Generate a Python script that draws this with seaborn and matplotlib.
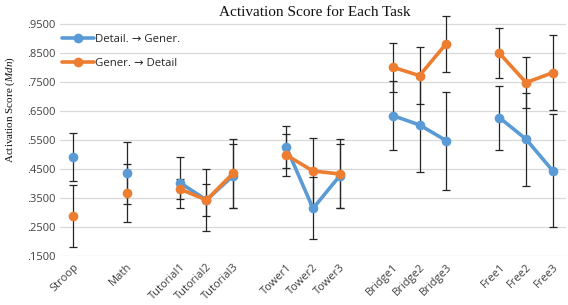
import numpy as np
import pandas as pd
import matplotlib
matplotlib.use("Agg")
import matplotlib.pyplot as plt
import seaborn as sns
from matplotlib.lines import Line2D

categories = ["Stroop", "Math", "Tutorial1", "Tutorial2", "Tutorial3",
              "Tower1", "Tower2", "Tower3", "Bridge1", "Bridge2", "Bridge3",
              "Free1", "Free2", "Free3"]
task_group = [0, 1, 2, 2, 2, 3, 3, 3, 4, 4, 4, 5, 5, 5]

series_names = ["Detail. \u2192 Gener.", "Gener. \u2192 Detail"]
detail_gener = [0.492, 0.435, 0.403, 0.343, 0.427, 0.525, 0.314, 0.426,
                0.634, 0.602, 0.548, 0.627, 0.553, 0.444]
detail_gener_err = [0.082, 0.107, 0.087, 0.107, 0.110, 0.073, 0.107, 0.110,
                    0.118, 0.161, 0.169, 0.110, 0.160, 0.195]
gener_detail = [0.288, 0.366, 0.381, 0.343, 0.435, 0.498, 0.443, 0.433,
                0.801, 0.772, 0.882, 0.849, 0.748, 0.782]
gener_detail_err = [0.108, 0.100, 0.034, 0.054, 0.118, 0.073, 0.115, 0.119,
                    0.085, 0.098, 0.096, 0.086, 0.089, 0.130]

yticks = [0.15, 0.25, 0.35, 0.45, 0.55, 0.65, 0.75, 0.85, 0.95]
ytick_labels = [".1500", ".2500", ".3500", ".4500", ".5500", ".6500",
                ".7500", ".8500", ".9500"]

colors = ["#5B9BD5", "#ED7D31"]

positions = [i + g for i, g in enumerate(task_group)]
rows = []
for name, vals, errs in [(series_names[0], detail_gener, detail_gener_err),
                         (series_names[1], gener_detail, gener_detail_err)]:
    for cat, pos, grp, v, e in zip(categories, positions, task_group, vals, errs):
        rows.append(dict(series=name, category=cat, pos=pos, group=grp,
                         value=v, err=e))
df = pd.DataFrame(rows)

sns.set_theme(style="white")
plt.rcParams['font.family'] = ['DejaVu Sans']
plt.rcParams['mathtext.fontset'] = 'custom'
plt.rcParams['mathtext.it'] = 'Liberation Serif:italic'
plt.rcParams['mathtext.rm'] = 'Liberation Serif'
plt.rcParams['mathtext.default'] = 'rm'

fig = plt.figure(figsize=(5.68, 3.05), dpi=100)
ax = fig.add_axes([60/568, 49/305, 506/568, 243.6/305])

# error bars (behind lines)
for name in series_names:
    d = df[df.series == name]
    ax.errorbar(d.pos, d.value, yerr=d.err, fmt='none', ecolor='#262626',
                elinewidth=0.9, capsize=3.2, capthick=0.9, zorder=2)

palette = dict(zip(series_names, colors))
for grp in sorted(set(task_group)):
    d = df[df.group == grp]
    sns.lineplot(data=d, x="pos", y="value", hue="series", palette=palette,
                 hue_order=series_names, marker="o", markersize=7,
                 markeredgewidth=0, linewidth=2.6, legend=False, ax=ax,
                 zorder=3, sort=False, errorbar=None)

ax.set_xlim(-0.5, 18.5)
ax.set_ylim(0.15, 0.99)
ax.set_yticks(yticks)
ax.set_yticklabels(ytick_labels)
ax.set_xticks(positions)
ax.set_xticklabels(categories, rotation=45, ha="right", rotation_mode="anchor")
ax.tick_params(axis='both', colors="#404040", length=0, pad=3)
ax.tick_params(axis='x', pad=4)
for lbl in ax.get_xticklabels() + ax.get_yticklabels():
    lbl.set_fontfamily(["Open Sans", "DejaVu Sans"])
    lbl.set_fontsize(8)
ax.grid(axis='y', color="#D9D9D9", linewidth=0.9, zorder=0)
ax.set_axisbelow(True)
for s in ax.spines.values():
    s.set_visible(False)
ax.set_xlabel("")

# legend
handles = [Line2D([], [], color=c, marker="o", markersize=7, linewidth=2.6,
                  markeredgewidth=0) for c in colors]
leg = ax.legend(handles, series_names, loc="upper left",
                bbox_to_anchor=(0.004, 0.91), frameon=False,
                prop={"family": ["Open Sans", "DejaVu Sans"], "size": 8.2},
                handlelength=2.8, handletextpad=0.1, labelspacing=1.15,
                borderaxespad=0, borderpad=0)
for t in leg.get_texts():
    t.set_color("#262626")

fig.text(315/568, 1 - 12/305, "Activation Score for Each Task",
         ha="center", va="center", fontsize=11, family="Liberation Serif",
         color="#111111")
ax.set_ylabel(r"Activation Score ($\mathit{Mdn}$)",
              fontsize=8, family="Liberation Serif", color="#111111")
ax.yaxis.set_label_coords(-0.084, 0.6)

fig.savefig("out.png", dpi=100)
